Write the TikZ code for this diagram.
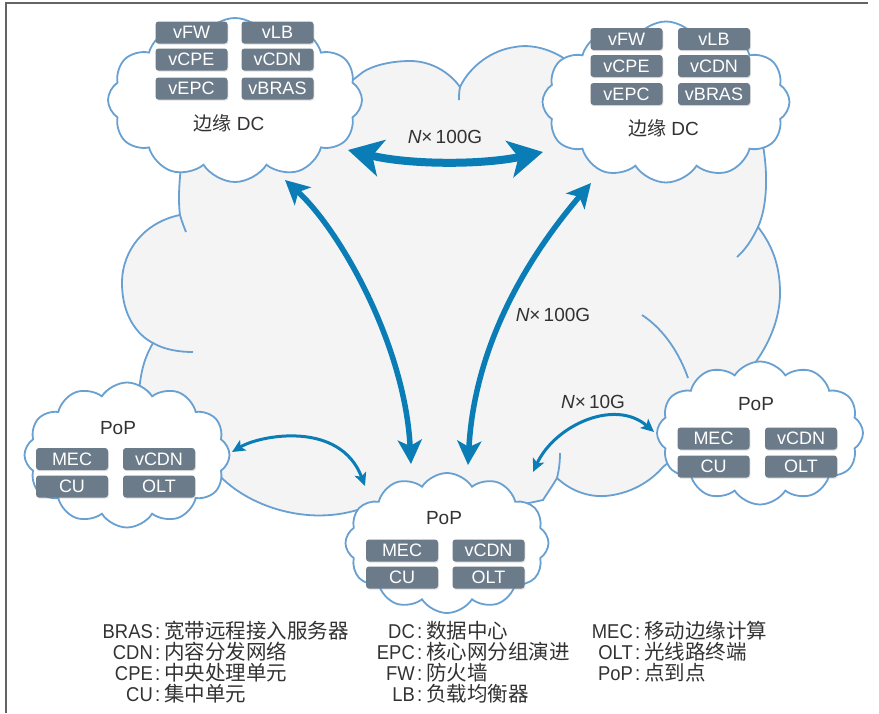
\documentclass[tikz,border=0pt]{standalone}
\usepackage{fontspec}
\setmainfont{Liberation Sans}
\newfontfamily\cjk{Noto Sans CJK SC}
\newfontfamily\condfont[FakeStretch=0.92]{Liberation Sans}
\usetikzlibrary{shapes.symbols,arrows.meta,shadows}

\definecolor{cloudblue}{RGB}{104,160,210}
\definecolor{arrowblue}{RGB}{10,125,182}
\definecolor{boxgray}{RGB}{108,123,138}
\definecolor{haze}{RGB}{244,244,245}
\definecolor{ink}{RGB}{50,50,50}
\definecolor{framegray}{RGB}{100,100,100}

\tikzset{
  puffcloud/.style={cloud, draw=cloudblue, fill=white, line width=1.8pt,
    cloud puffs=12, cloud puff arc=115, inner sep=0pt},
  vnf/.style={rectangle, rounded corners=3pt, fill=boxgray, text=white,
    minimum width=72pt, minimum height=22pt, inner sep=0pt,
    font=\fontsize{18}{18}\selectfont,
    drop shadow={opacity=0.25, shadow xshift=0.8pt, shadow yshift=-1.2pt}},
  sitelabel/.style={text=ink, font=\fontsize{19}{19}\selectfont, inner sep=0pt},
  ratelabel/.style={text=ink, font=\fontsize{19}{19}\selectfont, inner sep=0pt},
  bigtip/.tip={Stealth[length=34pt,width=37pt,inset=9pt]},
  midtip/.tip={Stealth[length=24pt,width=24pt,inset=6pt]},
  smalltip/.tip={Stealth[length=13pt,width=12pt,inset=3pt]},
  trunk/.style={draw=arrowblue, line width=8pt, bigtip-bigtip},
  uplink/.style={draw=arrowblue, line width=5.5pt, midtip-midtip},
  sidelink/.style={draw=arrowblue, line width=3pt, smalltip-smalltip},
  innerarc/.style={draw=cloudblue, line width=1.8pt},
  abbr/.style={anchor=base east, inner sep=0pt, text=ink,
    font=\condfont\fontsize{20}{21}\selectfont},
  gloss/.style={anchor=base west, inner sep=0pt, text=ink,
    font=\fontsize{20.5}{21}\selectfont},
}

\begin{document}
\begin{tikzpicture}[x=1pt,y=-1pt]
\path[use as bounding box, fill=white] (0,0) rectangle (879,713);

% frame
\draw[framegray, line width=1.5pt] (6,713) -- (6,3) -- (868,3);

% backbone cloud
\path[fill=haze, draw=cloudblue, line width=1.8pt]
  (183,150) .. controls (179,180) and (178,200) .. (180,215)
  .. controls (145,222) and (122,250) .. (122,283)
  .. controls (122,315) and (137,335) .. (153,343)
  .. controls (146,355) and (141,368) .. (139,392)
  -- (200,450) -- (217,473)
  .. controls (250,510) and (320,530) .. (375,503)
  -- (450,520) -- (543,500)
  .. controls (548,492) and (553,485) .. (557,478)
  .. controls (572,492) and (590,497) .. (605,496)
  .. controls (630,494) and (650,482) .. (663,467)
  -- (720,420) -- (755,363)
  .. controls (768,345) and (780,320) .. (780,293)
  .. controls (780,265) and (772,245) .. (758,227)
  .. controls (768,205) and (768,170) .. (762,140)
  -- (640,110) -- (585,75) -- (572,64)
  .. controls (552,48) and (530,44) .. (515,47)
  .. controls (492,50) and (470,66) .. (460,87)
  .. controls (450,73) and (432,61) .. (410,61)
  .. controls (390,61) and (372,66) .. (363,72)
  -- (340,90) -- cycle;
\draw[innerarc] (180,215) .. controls (182,222) and (184,227) .. (186,232);
\draw[innerarc] (153,343) .. controls (165,350) and (180,352) .. (193,352);
\draw[innerarc] (758,227) .. controls (752,240) and (745,250) .. (737,257);
\draw[innerarc] (642,315) .. controls (665,330) and (680,355) .. (688,378);
\draw[innerarc] (460,87) .. controls (459,92) and (459,96) .. (459,100);
\draw[innerarc] (557,478) .. controls (559,470) and (560,462) .. (560,453);

% edge data centres
\node[puffcloud, minimum width=254pt, minimum height=164pt] (dcL) at (235,100) {};
\node[puffcloud, minimum width=247pt, minimum height=161pt] (dcR) at (666,102) {};
% points of presence
\node[puffcloud, minimum width=205pt, minimum height=145pt] (popL) at (127,455) {};
\node[puffcloud, minimum width=206pt, minimum height=143pt] (popR) at (760,433) {};
\node[puffcloud, minimum width=203pt, minimum height=140pt] (popB) at (447,543) {};

% VNFs in the left DC
\node[vnf] (lFW)   at (191.5,32.5) {vFW};
\node[vnf] (lLB)   at (277.5,32.5) {vLB};
\node[vnf] (lCPE)  at (191.5,59.5) {vCPE};
\node[vnf] (lCDN)  at (277.5,59.5) {vCDN};
\node[vnf] (lEPC)  at (191.5,88.5) {vEPC};
\node[vnf] (lBRAS) at (277.5,88.5) {vBRAS};
\node[sitelabel] (lDC) at (229,123.5) {{\cjk 边缘} DC};

% VNFs in the right DC
\node[vnf] (rFW)   at (626.5,39) {vFW};
\node[vnf] (rLB)   at (714,39) {vLB};
\node[vnf] (rCPE)  at (626.5,66) {vCPE};
\node[vnf] (rCDN)  at (714,66) {vCDN};
\node[vnf] (rEPC)  at (626.5,94) {vEPC};
\node[vnf] (rBRAS) at (714,94) {vBRAS};
\node[sitelabel] (rDC) at (663.5,128) {{\cjk 边缘} DC};

% left PoP
\node[sitelabel] (lPoP) at (118,428) {PoP};
\node[vnf] (lMEC) at (72,459) {MEC};
\node[vnf] (lvCDN) at (159,459) {vCDN};
\node[vnf] (lCU) at (72,486.5) {CU};
\node[vnf] (lOLT) at (159,486.5) {OLT};

% right PoP
\node[sitelabel] (rPoP) at (756,404) {PoP};
\node[vnf] (rMEC) at (713.5,438.5) {MEC};
\node[vnf] (rvCDN) at (801,438.5) {vCDN};
\node[vnf] (rCU) at (713.5,466.5) {CU};
\node[vnf] (rOLT) at (801,466.5) {OLT};

% bottom PoP
\node[sitelabel] (bPoP) at (444,518) {PoP};
\node[vnf] (bMEC) at (402,550.5) {MEC};
\node[vnf] (bvCDN) at (488.5,550.5) {vCDN};
\node[vnf] (bCU) at (402,577.5) {CU};
\node[vnf] (bOLT) at (488.5,577.5) {OLT};

% link end points on the cloud rims
\coordinate (dcLeast) at (348,150);
\coordinate (dcReast) at (543,152);
\coordinate (dcLfoot) at (285,180);
\coordinate (popBtopL) at (411,464);
\coordinate (dcRfoot) at (591,183);
\coordinate (popBtopR) at (468,465);
\coordinate (popLrim) at (232,452);
\coordinate (popBrimL) at (365,486);
\coordinate (popBrimR) at (533,472);
\coordinate (popRrim) at (654,432);

% links
\draw[trunk] (dcLeast) .. controls (410,165) and (482,165) .. (dcReast);
\draw[uplink] (dcLfoot) .. controls (340,230) and (405,345) .. (popBtopL);
\draw[uplink] (dcRfoot) .. controls (538,245) and (475,335) .. (popBtopR);
\draw[sidelink] (popLrim) .. controls (260,435) and (340,420) .. (popBrimL);
\draw[sidelink] (popBrimR) .. controls (555,425) and (615,398) .. (popRrim);

\node[ratelabel] (rateTop) at (445,137) {\textit{N}×\,100G};
\node[ratelabel] (rateMid) at (553,315) {\textit{N}×\,100G};
\node[ratelabel] (rateSide) at (593,402) {\textit{N}×\,10G};

% glossary
\node[abbr] (kBRAS) at (153,638.5) {BRAS};
\node[gloss] (gBRAS) at (155,638.5) {{\condfont :}\hspace{4pt}{\cjk 宽带远程接入服务器}};
\node[abbr] (kCDN) at (153,659.5) {CDN};
\node[gloss] (gCDN) at (155,659.5) {{\condfont :}\hspace{4pt}{\cjk 内容分发网络}};
\node[abbr] (kCPE) at (153,680.5) {CPE};
\node[gloss] (gCPE) at (155,680.5) {{\condfont :}\hspace{4pt}{\cjk 中央处理单元}};
\node[abbr] (kCU) at (153,701.5) {CU};
\node[gloss] (gCU) at (155,701.5) {{\condfont :}\hspace{4pt}{\cjk 集中单元}};

\node[abbr] (kDC) at (415,638.5) {DC};
\node[gloss] (gDC) at (417,638.5) {{\condfont :}\hspace{4pt}{\cjk 数据中心}};
\node[abbr] (kEPC) at (415,659.5) {EPC};
\node[gloss] (gEPC) at (417,659.5) {{\condfont :}\hspace{4pt}{\cjk 核心网分组演进}};
\node[abbr] (kFW) at (415,680.5) {FW};
\node[gloss] (gFW) at (417,680.5) {{\condfont :}\hspace{4pt}{\cjk 防火墙}};
\node[abbr] (kLB) at (415,701.5) {LB};
\node[gloss] (gLB) at (417,701.5) {{\condfont :}\hspace{4pt}{\cjk 负载均衡器}};

\node[abbr] (kMEC) at (633,638.5) {MEC};
\node[gloss] (gMEC) at (635,638.5) {{\condfont :}\hspace{4pt}{\cjk 移动边缘计算}};
\node[abbr] (kOLT) at (633,659.5) {OLT};
\node[gloss] (gOLT) at (635,659.5) {{\condfont :}\hspace{4pt}{\cjk 光线路终端}};
\node[abbr] (kPoP) at (633,680.5) {PoP};
\node[gloss] (gPoP) at (635,680.5) {{\condfont :}\hspace{4pt}{\cjk 点到点}};
\end{tikzpicture}
\end{document}
